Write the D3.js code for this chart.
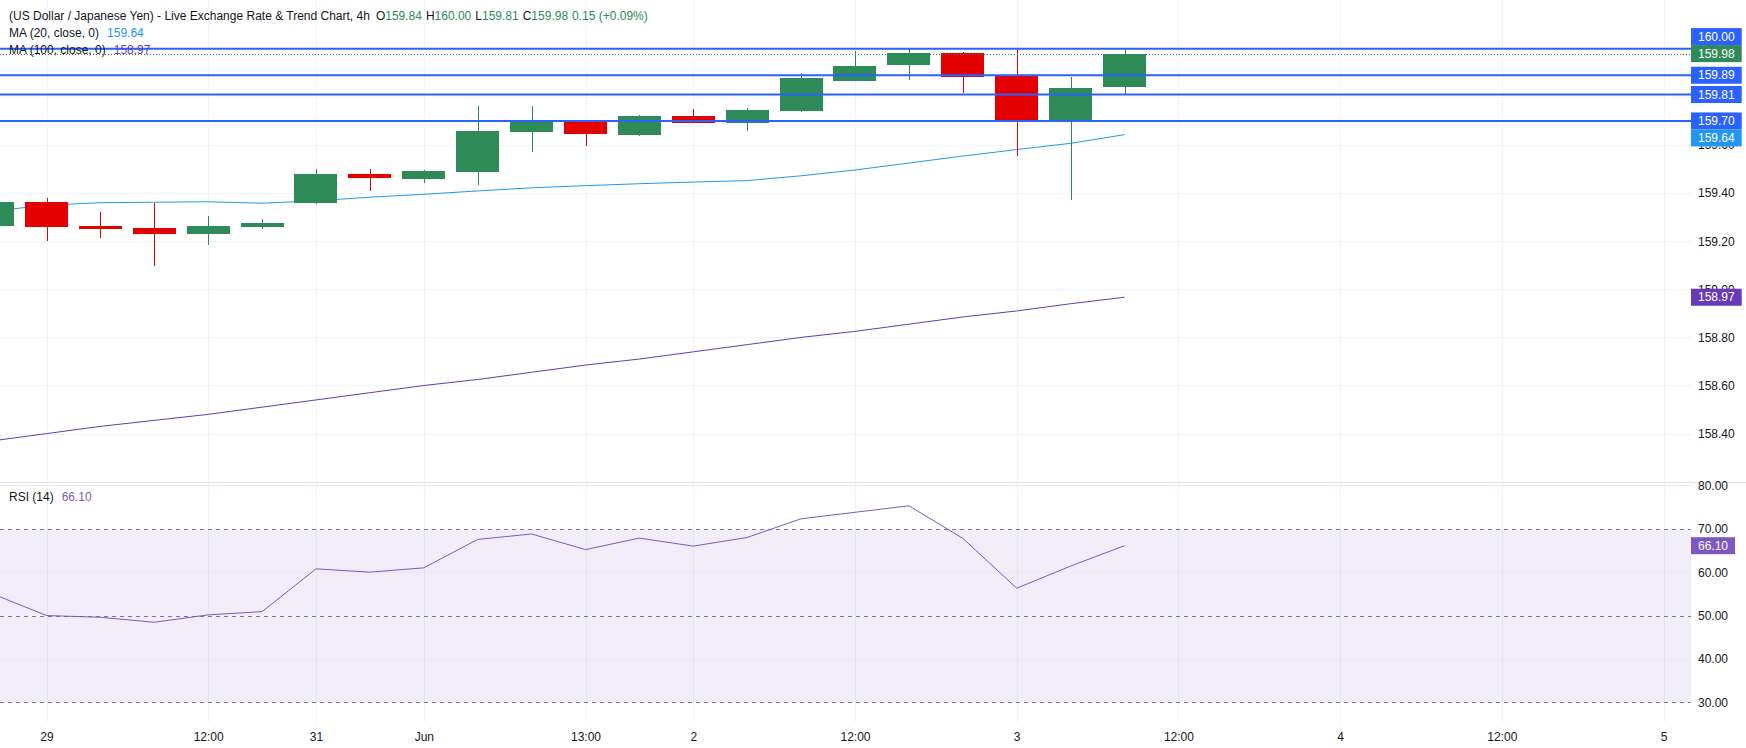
<!DOCTYPE html>
<html lang="en">
<head>
<meta charset="UTF-8">
<script src="https://d3js.org/d3.v7.min.js"></script>
<style>
  body { margin: 0; background: #fff; }
  svg { display: block; }
  text { font-family: "Liberation Sans", Arial, sans-serif; font-size: 12px; fill: #131722; }
</style>
</head>
<body>
<svg id="chart"></svg>
<script>

// candle positions (index in 4h bars, 0 = the "29" bar)
const candleIdx = [-1, 0, 1, 2, 3, 4, 5, 6, 7, 8, 9, 10, 11, 12, 13, 14, 15, 16, 17, 18, 19, 20]
const opens  = [159.263, 159.363, 159.263, 159.255, 159.230, 159.259, 159.359, 159.479, 159.459, 159.488, 159.654,
                159.696, 159.642, 159.721, 159.693, 159.743, 159.867, 159.934, 159.982, 159.887, 159.701, 159.84]
const highs  = [159.370, 159.380, 159.321, 159.360, 159.305, 159.292, 159.500, 159.500, 159.496, 159.762, 159.762,
                159.704, 159.725, 159.750, 159.753, 159.899, 159.991, 159.999, 159.987, 160.000, 159.883, 160.00]
const lows   = [159.260, 159.200, 159.213, 159.097, 159.184, 159.251, 159.355, 159.409, 159.442, 159.434, 159.571,
                159.596, 159.637, 159.692, 159.660, 159.738, 159.867, 159.872, 159.816, 159.554, 159.373, 159.81]
const closes = [159.363, 159.259, 159.250, 159.230, 159.263, 159.276, 159.479, 159.463, 159.492, 159.658, 159.696,
                159.646, 159.721, 159.692, 159.745, 159.879, 159.929, 159.982, 159.884, 159.701, 159.837, 159.98]

const ma20  = [159.325, 159.350, 159.360, 159.362, 159.364, 159.358, 159.368, 159.383, 159.395, 159.409, 159.422,
               159.431, 159.439, 159.446, 159.452, 159.472, 159.496, 159.525, 159.554, 159.581, 159.607, 159.643]
const ma100 = [158.370, 158.400, 158.430, 158.455, 158.480, 158.510, 158.540, 158.570, 158.600, 158.625, 158.655,
               158.685, 158.710, 158.740, 158.770, 158.800, 158.825, 158.855, 158.885, 158.910, 158.940, 158.967]
const rsi   = [55.0, 50.0, 49.6, 48.45, 50.15, 50.9, 60.76, 60.0, 61.0, 67.55, 68.8,
               65.2, 67.85, 66.0, 68.0, 72.3, 73.8, 75.3, 67.8, 56.3, 61.4, 66.1]

const hLevels = [160.00, 159.89, 159.81, 159.70]
const priceTicks = [158.40, 158.60, 158.80, 159.00, 159.20, 159.40, 159.60, 159.80, 160.00]
const rsiTicks = [30, 40, 50, 60, 70, 80]
const rsiLevels = [70, 50, 30]
const timeTickIdx = [0, 3, 5, 7, 10, 12, 15, 18, 21, 24, 27, 30]
const timeTickLabels = ["29", "12:00", "31", "Jun", "13:00", "2", "12:00", "3", "12:00", "4", "12:00", "5"]

const W = 1746, H = 748
const plotRight = 1691
const mainBottom = 482, rsiBottom = 722

const up = '#2e8b57', down = '#e50000', lineBlue = '#2962ff'
const ma20Color = '#2196f3', ma100Color = '#673ab7', rsiColor = '#7e57c2'
const gridColor = '#f0f3fa'

let x = d3.scaleLinear().domain([0, 30]).range([46.5, 1663.5])
let y = d3.scaleLinear().domain([158.2, 160.2]).range([481.7, 0.7])
let yr = d3.scaleLinear().domain([30, 80]).range([702.3, 485.4])

let svg = d3.select('#chart')
    .attr('width', W)
    .attr('height', H)
    .attr('viewBox', `0 0 ${W} ${H}`)

svg.append('rect').attr('width', W).attr('height', H).attr('fill', '#fff')

let defs = svg.append('defs')
defs.append('clipPath').attr('id', 'clipMain')
  .append('rect').attr('x', 0).attr('y', 0).attr('width', plotRight).attr('height', mainBottom)
defs.append('clipPath').attr('id', 'clipRsi')
  .append('rect').attr('x', 0).attr('y', mainBottom).attr('width', plotRight).attr('height', rsiBottom - mainBottom)

// vertical grid through both panes
svg.append('g')
  .selectAll('line')
  .data(timeTickIdx)
  .join('line')
    .attr('x1', d => Math.round(x(d)) + 0.5)
    .attr('x2', d => Math.round(x(d)) + 0.5)
    .attr('y1', 0)
    .attr('y2', rsiBottom)
    .attr('stroke', gridColor)

// horizontal grid, price pane
svg.append('g')
  .selectAll('line')
  .data(priceTicks)
  .join('line')
    .attr('x1', 0).attr('x2', plotRight)
    .attr('y1', d => Math.round(y(d)) + 0.5)
    .attr('y2', d => Math.round(y(d)) + 0.5)
    .attr('stroke', gridColor)

// RSI band + grid
let rsiG = svg.append('g').attr('clip-path', 'url(#clipRsi)')
rsiG.append('rect')
    .attr('x', 0).attr('width', plotRight)
    .attr('y', yr(70)).attr('height', yr(30) - yr(70))
    .attr('fill', 'rgba(126,87,194,0.1)')
rsiG.selectAll('line.grid')
  .data(rsiTicks.filter(d => !rsiLevels.includes(d)))
  .join('line')
    .attr('class', 'grid')
    .attr('x1', 0).attr('x2', plotRight)
    .attr('y1', d => Math.round(yr(d)) + 0.5)
    .attr('y2', d => Math.round(yr(d)) + 0.5)
    .attr('stroke', '#ebe8f3')
rsiG.selectAll('line.level')
  .data(rsiLevels)
  .join('line')
    .attr('class', 'level')
    .attr('x1', 0).attr('x2', plotRight)
    .attr('y1', d => Math.round(yr(d)) + 0.5)
    .attr('y2', d => Math.round(yr(d)) + 0.5)
    .attr('stroke', '#787b86')
    .attr('stroke-dasharray', '4,4')

// pane separator
svg.append('line')
    .attr('x1', 0).attr('x2', W)
    .attr('y1', mainBottom + 0.5).attr('y2', mainBottom + 0.5)
    .attr('stroke', '#e0e3eb')

// price pane content
let main = svg.append('g').attr('clip-path', 'url(#clipMain)')

let lineGen = (arr, sc) => d3.line()
    .x((d, i) => x(candleIdx[i]))
    .y(d => sc(d))(arr)

main.append('path')
    .attr('d', lineGen(ma100, y))
    .attr('fill', 'none')
    .attr('stroke', ma100Color)
    .attr('stroke-width', 1)

main.append('path')
    .attr('d', lineGen(ma20, y))
    .attr('fill', 'none')
    .attr('stroke', ma20Color)
    .attr('stroke-width', 1)

let candles = candleIdx.map((t, i) => ({t, o: opens[i], h: highs[i], l: lows[i], c: closes[i]}))
let bodyW = (x(1) - x(0)) * 0.8

let cg = main.selectAll('.candle')
  .data(candles)
  .join('g')
    .attr('class', 'candle')
    .attr('shape-rendering', 'crispEdges')

cg.append('line')
    .attr('x1', d => Math.round(x(d.t)) + 0.5)
    .attr('x2', d => Math.round(x(d.t)) + 0.5)
    .attr('y1', d => y(d.h))
    .attr('y2', d => y(d.l))
    .attr('stroke', d => d.c >= d.o ? up : down)

cg.append('rect')
    .attr('x', d => Math.round(x(d.t) - bodyW / 2))
    .attr('width', Math.round(bodyW))
    .attr('y', d => y(Math.max(d.o, d.c)))
    .attr('height', d => Math.max(1, y(Math.min(d.o, d.c)) - y(Math.max(d.o, d.c))))
    .attr('fill', d => d.c >= d.o ? up : down)

// horizontal levels
main.selectAll('line.hlevel')
  .data(hLevels)
  .join('line')
    .attr('class', 'hlevel')
    .attr('x1', 0).attr('x2', plotRight)
    .attr('y1', d => y(d)).attr('y2', d => y(d))
    .attr('stroke', lineBlue)
    .attr('stroke-width', 2)

// last price dotted line
let lastClose = closes[closes.length - 1]
main.append('line')
    .attr('x1', 0).attr('x2', plotRight)
    .attr('y1', Math.round(y(lastClose)) + 0.5)
    .attr('y2', Math.round(y(lastClose)) + 0.5)
    .attr('stroke', up)
    .attr('stroke-dasharray', '1,2')

// RSI line
svg.append('g').attr('clip-path', 'url(#clipRsi)')
  .append('path')
    .attr('d', lineGen(rsi, yr))
    .attr('fill', 'none')
    .attr('stroke', rsiColor)
    .attr('stroke-width', 1)

// axes
let fmt = d3.format('.2f')
svg.append('g')
    .attr('transform', `translate(${plotRight},0)`)
    .call(d3.axisRight(y).tickValues(priceTicks).tickSize(0).tickPadding(7).tickFormat(fmt))
    .call(g => g.select('.domain').remove())
    .call(g => g.selectAll('text').attr('fill', '#131722').style('font-size', '12px').style('font-family', null))

svg.append('g')
    .attr('transform', `translate(${plotRight},0)`)
    .call(d3.axisRight(yr).tickValues(rsiTicks).tickSize(0).tickPadding(7).tickFormat(fmt))
    .call(g => g.select('.domain').remove())
    .call(g => g.selectAll('text').attr('fill', '#131722').style('font-size', '12px').style('font-family', null))

svg.append('g')
    .attr('transform', `translate(0,${rsiBottom})`)
    .call(d3.axisBottom(x).tickValues(timeTickIdx).tickSize(0).tickPadding(10)
        .tickFormat((d, i) => timeTickLabels[i]))
    .call(g => g.select('.domain').remove())
    .call(g => g.selectAll('text').attr('fill', '#131722').style('font-size', '12px').style('font-family', null))

// value boxes on the price scale
const boxH = 17
let priceLabels = [
    {v: lastClose, color: up},
    ...hLevels.map(v => ({v, color: lineBlue})),
    {v: ma20[ma20.length - 1], color: ma20Color},
    {v: ma100[ma100.length - 1], color: ma100Color}
]
let placed = []
priceLabels.forEach(lb => {
    let cy = y(lb.v)
    for (let pass = 0; pass < 4; pass++) {
        placed.forEach(p => {
            if (Math.abs(cy - p.cy) < boxH) cy = cy < p.cy ? p.cy - boxH : p.cy + boxH
        })
    }
    lb.cy = cy
    placed.push(lb)
})
priceLabels.push({v: rsi[rsi.length - 1], color: rsiColor, cy: yr(rsi[rsi.length - 1])})

let boxes = svg.append('g')
  .selectAll('g')
  .data(priceLabels)
  .join('g')
    .attr('transform', d => `translate(${plotRight},${d.cy})`)

boxes.append('text')
    .attr('x', 7)
    .attr('dy', '0.35em')
    .style('fill', '#fff')
    .text(d => fmt(d.v))
    .each(function(d) { d.tw = this.getComputedTextLength() })

boxes.insert('rect', 'text')
    .attr('x', 0)
    .attr('y', -boxH / 2)
    .attr('width', d => d.tw + 14)
    .attr('height', boxH)
    .attr('fill', d => d.color)

// legend texts
let legend = svg.append('g')
let t1 = legend.append('text').attr('x', 9).attr('y', 20)
t1.append('tspan').text('(US Dollar / Japanese Yen) - Live Exchange Rate & Trend Chart, 4h')
let ohlc = [['O', opens], ['H', highs], ['L', lows], ['C', closes]]
ohlc.forEach(([k, arr], i) => {
    t1.append('tspan').attr('dx', i === 0 ? 6 : 4).text(k)
    t1.append('tspan').style('fill', up).text(fmt(arr[arr.length - 1]))
})
t1.append('tspan').attr('dx', 4).style('fill', up)
    .text('0.15 (+0.09%)')

let t2 = legend.append('text').attr('x', 9).attr('y', 37)
t2.append('tspan').text('MA (20, close, 0)')
t2.append('tspan').attr('dx', 8).style('fill', ma20Color).text(fmt(ma20[ma20.length - 1]))

let t3 = legend.append('text').attr('x', 9).attr('y', 54)
t3.append('tspan').text('MA (100, close, 0)')
t3.append('tspan').attr('dx', 8).style('fill', ma100Color).text(fmt(ma100[ma100.length - 1]))

let t4 = legend.append('text').attr('x', 9).attr('y', 501)
t4.append('tspan').text('RSI (14)')
t4.append('tspan').attr('dx', 8).style('fill', rsiColor).text(fmt(rsi[rsi.length - 1]))

</script>
</body>
</html>
